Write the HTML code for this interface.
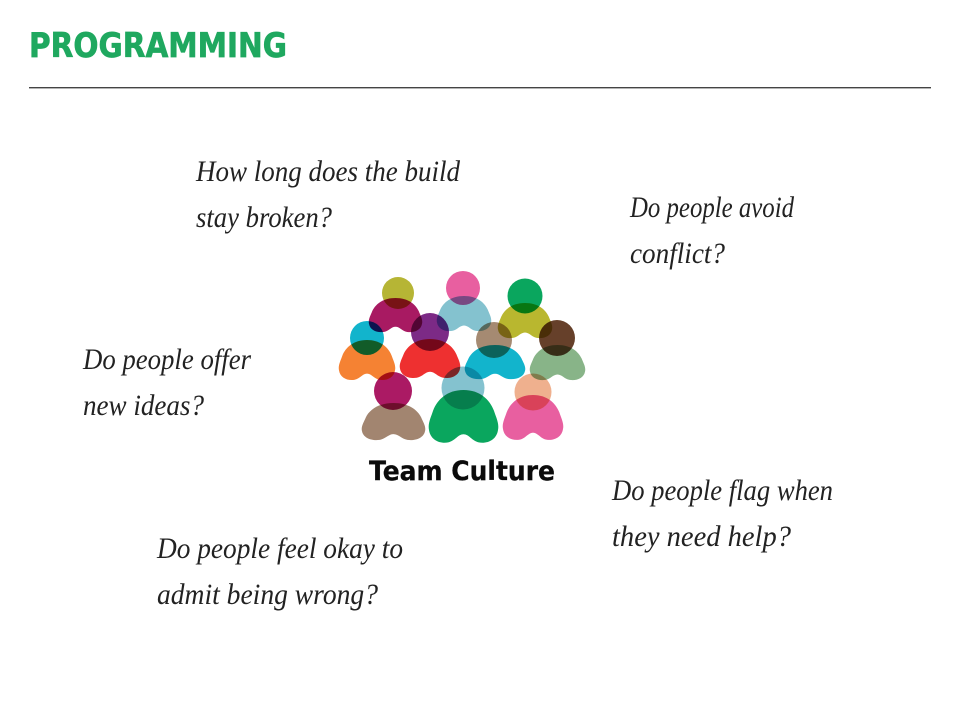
<!DOCTYPE html>
<html><head><meta charset="utf-8"><style>
html,body{margin:0;padding:0;background:#fff}
svg{display:block}
.h{font-family:"Liberation Serif",serif;font-style:italic;font-size:30px;fill:#222}
.m{mix-blend-mode:multiply}
</style></head><body>
<svg width="959" height="720" viewBox="0 0 959 720" xmlns="http://www.w3.org/2000/svg">
<defs><path id="b" d="M50 0C74 0 88 18 94 38C97 50 102 62 100 74C98 92 85 100 72 97C62 94 58 82 50 82C42 82 38 94 28 97C15 100 2 92 0 74C-2 62 3 50 6 38C12 18 26 0 50 0Z"/></defs>
<rect width="959" height="720" fill="#fff"/>
<text x="29" y="57" font-family="DejaVu Sans,sans-serif" font-weight="700" font-size="34" fill="#1fa85f" stroke="#1fa85f" stroke-width=".7" textLength="258" lengthAdjust="spacingAndGlyphs">PROGRAMMING</text>
<rect x="29" y="87" width="902" height="1.4" fill="#444"/>
<g class="h">
<text x="196" y="181" textLength="264" lengthAdjust="spacingAndGlyphs">How long does the build</text>
<text x="196" y="227" textLength="136" lengthAdjust="spacingAndGlyphs">stay broken?</text>
<text x="630" y="217" textLength="164" lengthAdjust="spacingAndGlyphs">Do people avoid</text>
<text x="630" y="263" textLength="95" lengthAdjust="spacingAndGlyphs">conflict?</text>
<text x="83" y="369" textLength="168" lengthAdjust="spacingAndGlyphs">Do people offer</text>
<text x="83" y="415" textLength="121" lengthAdjust="spacingAndGlyphs">new ideas?</text>
<text x="612" y="500" textLength="221" lengthAdjust="spacingAndGlyphs">Do people flag when</text>
<text x="612" y="546" textLength="179" lengthAdjust="spacingAndGlyphs">they need help?</text>
<text x="157" y="558" textLength="246" lengthAdjust="spacingAndGlyphs">Do people feel okay to</text>
<text x="157" y="604" textLength="221" lengthAdjust="spacingAndGlyphs">admit being wrong?</text>
</g>
<g>
<use href="#b" class="m" fill="#a81a62" transform="translate(369 298) scale(.53 .35)"/>
<circle class="m" cx="398" cy="293" r="16" fill="#b6b535"/>
<use href="#b" class="m" fill="#84c2cf" transform="translate(437 296) scale(.54 .36)"/>
<circle class="m" cx="463" cy="288" r="17" fill="#e85fa0"/>
<use href="#b" class="m" fill="#b9b72f" transform="translate(498 303) scale(.54 .36)"/>
<circle class="m" cx="525" cy="296" r="17.5" fill="#0aa65e"/>
<use href="#b" class="m" fill="#f58233" transform="translate(339 340) scale(.56 .41)"/>
<circle class="m" cx="367" cy="338" r="17" fill="#12b4cc"/>
<use href="#b" class="m" fill="#ee3030" transform="translate(400 339) scale(.6 .4)"/>
<circle class="m" cx="430" cy="332" r="19" fill="#7c2a86"/>
<use href="#b" class="m" fill="#12b4cc" transform="translate(465 345) scale(.6 .35)"/>
<circle class="m" cx="494" cy="340" r="18" fill="#a58a72"/>
<use href="#b" class="m" fill="#88b488" transform="translate(530 345) scale(.55 .36)"/>
<circle class="m" cx="557" cy="338" r="18" fill="#66402a"/>
<use href="#b" class="m" fill="#a28570" transform="translate(362 403) scale(.63 .38)"/>
<circle class="m" cx="393" cy="391" r="19" fill="#ab1a64"/>
<use href="#b" class="m" fill="#0aa65e" transform="translate(429 390) scale(.69 .54)"/>
<circle class="m" cx="463" cy="388" r="21.5" fill="#84c2cf"/>
<use href="#b" class="m" fill="#e85fa0" transform="translate(503 395) scale(.6 .46)"/>
<circle class="m" cx="533" cy="392" r="18.5" fill="#efb08e"/>
</g>
<text x="369" y="480" font-family="DejaVu Sans,sans-serif" font-weight="700" font-size="27" fill="#0b0b0b" stroke="#0b0b0b" stroke-width=".3" textLength="186" lengthAdjust="spacingAndGlyphs">Team Culture</text>
</svg>
</body></html>
